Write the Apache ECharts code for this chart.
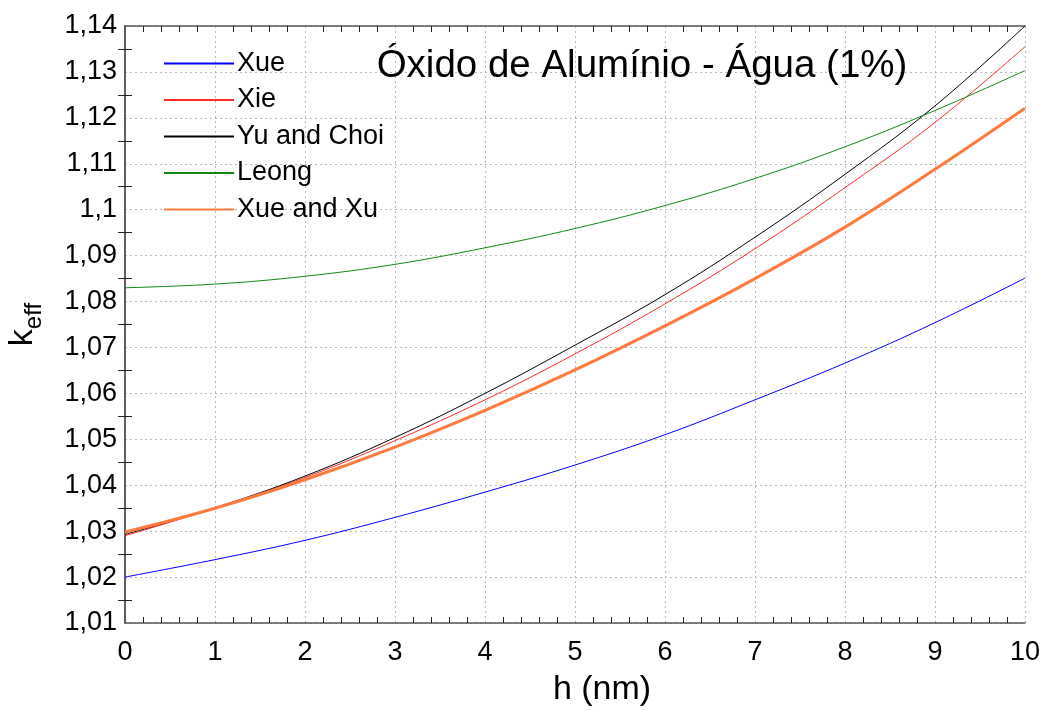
<!DOCTYPE html>
<html>
<head>
<meta charset="utf-8">
<script src="https://cdn.jsdelivr.net/npm/echarts@6/dist/echarts.min.js"></script>
<style>
  html, body { margin: 0; padding: 0; background: #fff; }
  #chart { width: 1050px; height: 710px; }
</style>
</head>
<body>
<div id="chart"></div>
<script>
// Effective thermal conductivity of Al2O3-water nanofluid (1%) vs. interfacial layer thickness h
const hValues = [0, 1, 2, 3, 4, 5, 6, 7, 8, 9, 10];
const xue      = [1.0200, 1.0238, 1.0280, 1.0330, 1.0385, 1.0444, 1.0510, 1.0586, 1.0666, 1.0754, 1.0851];
const xie      = [1.0290, 1.0350, 1.0417, 1.0497, 1.0586, 1.0686, 1.0795, 1.0915, 1.1048, 1.1190, 1.1355];
const yuChoi   = [1.0293, 1.0351, 1.0420, 1.0504, 1.0600, 1.0705, 1.0815, 1.0940, 1.1077, 1.1226, 1.1400];
const leong    = [1.0830, 1.0838, 1.0855, 1.0881, 1.0917, 1.0959, 1.1009, 1.1068, 1.1137, 1.1216, 1.1303];
const xueXu    = [1.0298, 1.0350, 1.0412, 1.0483, 1.0563, 1.0651, 1.0747, 1.0850, 1.0962, 1.1088, 1.1221];

const seriesNames = ['Xue', 'Xie', 'Yu and Choi', 'Leong', 'Xue and Xu'];
const seriesData  = [xue, xie, yuChoi, leong, xueXu];
const seriesColors = ['#0000ff', '#ff2a2a', '#000000', '#108a10', '#ff7a3d'];
const seriesWidths = [1, 1, 1, 1, 3];

const FONT = '"Liberation Sans", Arial, sans-serif';

const fmtY = v => Number(v.toFixed(2)).toString().replace('.', ',');

const gridLine = { show: true, lineStyle: { color: '#b8b8b8', width: 1, type: [2, 3] } };
const axisLine = { show: true, lineStyle: { color: '#555', width: 1.5 } };
const minorX = { show: true, splitNumber: 5, length: 6, lineStyle: { color: '#222', width: 1 } };
const minorY = { show: true, splitNumber: 2, length: 7, lineStyle: { color: '#222', width: 1 } };

const chart = echarts.init(document.getElementById('chart'), null, { renderer: 'canvas' });

chart.setOption({
  animation: false,
  backgroundColor: '#fff',
  title: {
    text: 'Óxido de Alumínio - Água (1%)',
    left: 637, top: 42, textAlign: 'center',
    textStyle: { fontFamily: FONT, fontSize: 38.5, fontWeight: 'normal', color: '#000' }
  },
  legend: {
    orient: 'vertical',
    left: 163, top: 50, padding: 0,
    itemWidth: 70, itemHeight: 14, itemGap: 9.5,
    itemStyle: { opacity: 0 },
    textStyle: { fontFamily: FONT, fontSize: 27, color: '#000', padding: [0, 0, 0, -2] },
    data: seriesNames
  },
  grid: { left: 125, right: 25, top: 26, bottom: 87, outerBoundsMode: 'none', containLabel: false },
  xAxis: [{
    type: 'value', min: 0, max: 10, interval: 1,
    name: 'h (nm)', nameLocation: 'middle', nameGap: 50,
    nameTextStyle: { fontFamily: FONT, fontSize: 34, color: '#000', padding: [0, 0, 0, 54] },
    axisLine: axisLine,
    axisTick: { show: false, inside: true },
    minorTick: minorX,
    axisLabel: { fontFamily: FONT, fontSize: 27, color: '#000', margin: 16 },
    splitLine: gridLine
  }, {
    type: 'value', min: 0, max: 10, interval: 1, position: 'top',
    axisLine: axisLine,
    axisTick: { show: false, inside: true },
    minorTick: minorX,
    axisLabel: { show: false },
    splitLine: { show: false }
  }],
  yAxis: [{
    type: 'value', min: 1.01, max: 1.14, interval: 0.01,
    name: '{k|k}{s|eff}', nameLocation: 'middle', nameGap: 85, nameRotate: 90,
    nameTextStyle: {
      rich: {
        k: { fontFamily: FONT, fontSize: 34, color: '#000', verticalAlign: 'top', lineHeight: 34 },
        s: { fontFamily: FONT, fontSize: 24, color: '#000', verticalAlign: 'top', lineHeight: 24, padding: [16, 0, 0, 0] }
      }
    },
    axisLine: axisLine,
    axisTick: { show: false, inside: true },
    minorTick: minorY,
    axisLabel: { fontFamily: FONT, fontSize: 27, color: '#000', margin: 8, formatter: fmtY },
    splitLine: gridLine
  }, {
    type: 'value', min: 1.01, max: 1.14, interval: 0.01, position: 'right',
    axisLine: axisLine,
    axisTick: { show: false, inside: true },
    minorTick: minorY,
    axisLabel: { show: false },
    splitLine: { show: false }
  }],
  series: seriesNames.map((name, i) => ({
    name: name,
    type: 'line',
    smooth: 0.4,
    symbol: 'none',
    xAxisIndex: 0, yAxisIndex: 0,
    color: seriesColors[i],
    lineStyle: { color: seriesColors[i], width: seriesWidths[i] },
    z: i === 4 ? 5 : 3,
    data: hValues.map((h, k) => [h, seriesData[i][k]])
  }))
});
</script>
</body>
</html>
